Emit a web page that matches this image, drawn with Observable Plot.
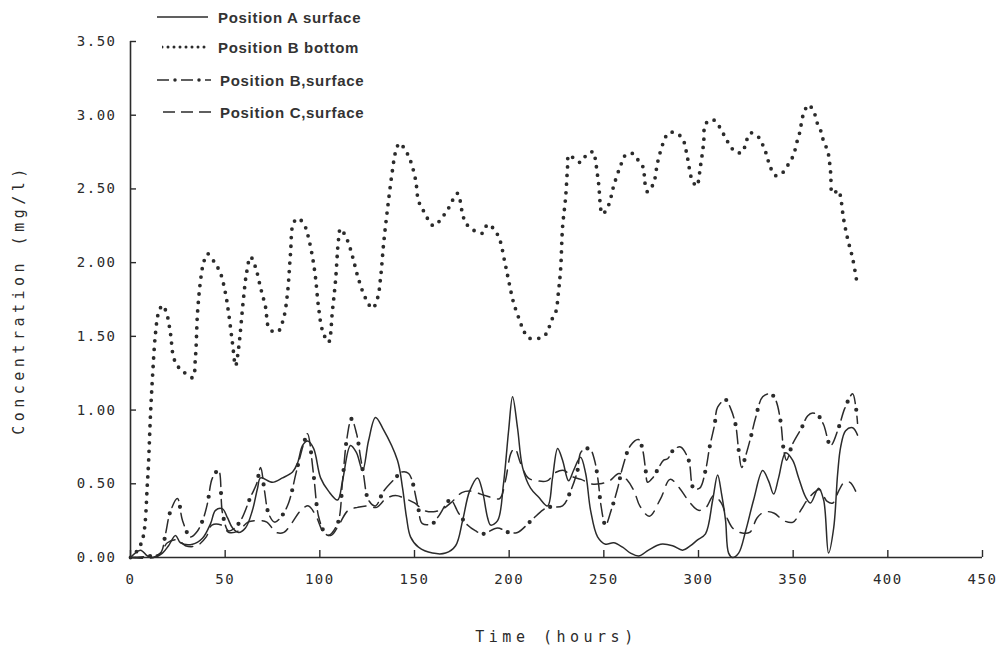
<!DOCTYPE html>
<html>
<head>
<meta charset="utf-8">
<script src="https://cdn.jsdelivr.net/npm/d3@7"></script>
<script src="https://cdn.jsdelivr.net/npm/@observablehq/plot@0.6"></script>
<style>
  html, body { margin: 0; padding: 0; background: #fff; }
  #wrap { position: relative; width: 1002px; height: 654px; overflow: hidden; }
  #legend { position: absolute; left: 0; top: 0; font-family: "Liberation Sans", Arial, sans-serif; font-weight: bold; font-size: 15px; color: #333; letter-spacing: 0.7px; }
  .row { position: absolute; height: 20px; display: flex; align-items: center; white-space: nowrap; }
  .row svg { display: block; }
  #chart g[aria-label$="tick label"] { letter-spacing: 1.5px; }
  #chart g[aria-label$="axis label"] text { letter-spacing: 4.5px; font-size: 15px; }
</style>
</head>
<body>
<div id="wrap">
  <div id="chart"></div>
  <div id="legend"></div>
</div>
<script>
// Time (hours) and concentration (mg/l)
const posASurface = [[0,0],[5.3,0.05],[9,0.01],[12.2,0],[16.9,0.03],[20.1,0.08],[23.8,0.15],[26.4,0.10],[32.8,0.09],[38,0.13],
  [42.3,0.23],[44.9,0.32],[48.6,0.33],[51.2,0.27],[53.9,0.20],[57.1,0.17],[60.7,0.20],[64.4,0.32],[67.1,0.47],[68.7,0.54],
  [75,0.51],[80.3,0.54],[85.6,0.58],[88.2,0.64],[90.9,0.76],[93.5,0.79],[96.7,0.74],[100.4,0.54],[104.6,0.45],[109.4,0.39],
  [112,0.52],[116.2,0.76],[119.4,0.71],[122.6,0.59],[125.7,0.79],[129.4,0.95],[133.1,0.88],[141,0.66],[143.7,0.47],[145.8,0.27],
  [147.9,0.14],[152.1,0.07],[159.5,0.03],[166.4,0.03],[171.7,0.08],[175.4,0.25],[179.1,0.45],[183.3,0.54],[185.9,0.45],[188.6,0.27],
  [190.2,0.22],[193.9,0.25],[197,0.50],[199.7,0.86],[201.8,1.09],[204.4,0.88],[207.1,0.61],[211.3,0.47],[215.5,0.41],[220.3,0.35],
  [222.9,0.54],[225.6,0.74],[228.2,0.66],[231.4,0.52],[234,0.59],[237.7,0.68],[240.4,0.57],[243,0.32],[246.7,0.14],[250.9,0.09],
  [255.2,0.10],[259.9,0.07],[264.1,0.03],[268.4,0.01],[273.6,0.05],[280,0.09],[286.3,0.08],[291.6,0.05],[295.8,0.08],[299.5,0.12],
  [303.7,0.16],[307.5,0.39],[310.1,0.56],[312.2,0.43],[314.3,0.25],[315.9,0.03],[318,0],[321.2,0.03],[324.9,0.18],[329.1,0.39],
  [333.9,0.59],[337,0.52],[339.7,0.43],[342.3,0.54],[346,0.71],[349.7,0.66],[352.9,0.54],[356.6,0.41],[359.2,0.37],[363.4,0.47],
  [366.1,0.39],[368.7,0.03],[371.4,0.20],[373.5,0.57],[375.1,0.75],[377.7,0.86],[381.4,0.88],[384,0.83]];

const posBBottom = [[0,0],[2.6,0.03],[6.3,0.12],[9.0,0.52],[10.6,0.98],[11.6,1.22],[13.2,1.52],[14.8,1.66],[16.9,1.71],[19.0,1.66],
  [21.1,1.52],[22.7,1.36],[24.8,1.30],[28.0,1.26],[32.8,1.22],[34.3,1.36],[35.4,1.66],[37.0,1.88],[38.6,2.00],[40.7,2.06],
  [44.9,1.99],[47.5,1.93],[50.2,1.79],[51.8,1.66],[53.9,1.45],[55.5,1.30],[57.1,1.42],[59.7,1.76],[61.3,1.93],[63.4,2.04],
  [66.0,1.97],[68.7,1.83],[71.3,1.70],[73.4,1.55],[77.7,1.53],[80.8,1.62],[82.9,1.79],[84.5,2.06],[86.1,2.27],[88.7,2.30],
  [92.4,2.24],[94.0,2.17],[96.1,2.04],[97.7,1.90],[99.3,1.70],[101.4,1.54],[104.6,1.46],[106.7,1.68],[108.3,1.88],[109.9,2.16],
  [110.9,2.23],[114.6,2.15],[117.3,2.04],[120.4,1.89],[124.1,1.76],[127.8,1.69],[130.5,1.76],[132.1,1.90],[133.7,2.13],[135.8,2.37],
  [138.4,2.63],[140.0,2.75],[142.1,2.81],[145.3,2.76],[147.9,2.69],[150.6,2.56],[152.1,2.42],[154.8,2.35],[160.1,2.25],[164.8,2.31],
  [168.0,2.37],[172.7,2.47],[175.4,2.33],[177.0,2.27],[181.2,2.22],[186.0,2.20],[188.6,2.26],[191.8,2.23],[194.9,2.16],[197.6,2.01],
  [199.7,1.88],[202.3,1.73],[205.5,1.61],[207.6,1.54],[210.2,1.49],[216.6,1.49],[220.3,1.53],[221.9,1.60],[224.5,1.66],[226.1,1.81],
  [227.2,1.96],[228.2,2.24],[229.8,2.44],[230.9,2.66],[231.4,2.73],[234.0,2.71],[237.7,2.68],[241.4,2.74],[244.6,2.75],[245.6,2.69],
  [247.2,2.54],[249.3,2.33],[252.5,2.39],[255.2,2.52],[258.9,2.66],[261.5,2.73],[265.2,2.74],[268.4,2.69],[271.0,2.64],[271.5,2.56],
  [273.1,2.48],[276.3,2.54],[278.4,2.68],[281.6,2.82],[284.2,2.88],[287.9,2.88],[291.6,2.84],[294.2,2.71],[296.4,2.57],[299.0,2.52],
  [301.1,2.66],[302.7,2.81],[303.7,2.94],[307.5,2.97],[310.6,2.93],[313.3,2.87],[315.9,2.81],[319.6,2.75],[323.3,2.75],[324.9,2.81],
  [327.5,2.88],[331.8,2.85],[333.9,2.80],[336.0,2.73],[337.6,2.66],[340.7,2.59],[344.4,2.61],[347.6,2.67],[350.2,2.73],[351.8,2.81],
  [353.4,2.88],[355.5,3.01],[358.2,3.07],[361.3,3.01],[362.9,2.94],[365.0,2.88],[366.1,2.82],[368.2,2.76],[369.8,2.61],[370.8,2.47],
  [374.0,2.49],[375.1,2.44],[376.6,2.30],[378.8,2.16],[381.4,2.03],[383.5,1.88]];

const posBSurface = [[0,0],[10.6,0.01],[15.8,0.03],[18.5,0.16],[21,0.31],[24.8,0.40],[27.5,0.25],[31.7,0.14],[35.4,0.18],[38.6,0.27],
  [40.7,0.37],[43.3,0.54],[46.5,0.59],[48.6,0.30],[51.8,0.18],[55,0.20],[58.6,0.26],[63.4,0.41],[66.6,0.50],[68.7,0.61],
  [70.8,0.45],[72.9,0.30],[76.1,0.24],[79.8,0.28],[83.5,0.37],[87.2,0.56],[88.7,0.64],[91.9,0.79],[93.5,0.84],[96.7,0.56],
  [99.3,0.28],[102.5,0.17],[104.6,0.15],[109.4,0.23],[112,0.52],[114.1,0.79],[116.7,0.94],[119.4,0.84],[121.5,0.68],[123.1,0.56],
  [125.7,0.39],[129.4,0.35],[133.7,0.45],[140,0.54],[143.2,0.58],[146.9,0.57],[151.6,0.36],[154.2,0.23],[159.5,0.23],[162.7,0.28],
  [169,0.39],[173.3,0.30],[178,0.22],[182.3,0.18],[186,0.16],[193.9,0.20],[199.7,0.17],[204.4,0.17],[210.8,0.24],[216.6,0.31],
  [220.3,0.34],[228.2,0.35],[232.4,0.45],[236.1,0.59],[237.7,0.71],[240.4,0.74],[243,0.73],[245.1,0.66],[247.2,0.50],[248.3,0.37],
  [250.9,0.22],[254.1,0.33],[257.3,0.47],[259.9,0.61],[264.1,0.76],[268.4,0.80],[270.5,0.73],[272.1,0.59],[273.1,0.51],[275.8,0.54],
  [281.6,0.66],[283.7,0.67],[286.8,0.73],[290.5,0.75],[294.8,0.66],[297.4,0.47],[300.6,0.47],[303.7,0.59],[305.9,0.75],[308.5,0.90],
  [310.1,1.02],[314.3,1.07],[317,1.01],[319.6,0.90],[321.2,0.73],[322.8,0.61],[324.9,0.69],[327.5,0.81],[330.2,0.95],[333.9,1.09],
  [338.1,1.11],[340.7,1.07],[343.4,0.92],[345,0.73],[346.5,0.66],[349.7,0.77],[354.5,0.88],[357.6,0.96],[360.3,0.98],[363.4,0.96],
  [366.1,0.90],[369.8,0.76],[374,0.88],[377.2,1.01],[381.4,1.11],[383,1.03],[384,0.91]];

const posCSurface = [[0,0],[12,0],[16,0.03],[19.5,0.10],[25,0.12],[29,0.08],[35,0.08],[40,0.14],[43,0.22],[48,0.22],
  [52,0.17],[57,0.18],[62,0.24],[67,0.25],[72,0.24],[77,0.17],[81,0.17],[85,0.23],[90,0.32],[94,0.35],
  [98,0.28],[102,0.17],[106,0.15],[110,0.22],[115,0.32],[120,0.34],[125,0.35],[130,0.34],[135,0.40],[140,0.42],
  [145,0.40],[150,0.37],[155,0.32],[160,0.31],[165,0.33],[170,0.38],[175,0.44],[180,0.45],[185,0.43],[190,0.41],
  [195,0.40],[198,0.52],[201,0.71],[203,0.74],[206,0.64],[210,0.54],[215,0.52],[220,0.52],[225,0.58],[229,0.59],
  [233,0.55],[238,0.53],[243,0.50],[248,0.50],[253,0.52],[258,0.57],[262,0.53],[266,0.45],[269,0.35],[274,0.28],
  [280,0.40],[285,0.53],[290,0.47],[295,0.38],[300,0.32],[304,0.34],[308,0.42],[312,0.37],[315,0.27],[318,0.20],
  [322,0.17],[327,0.17],[331,0.27],[335,0.31],[340,0.30],[345,0.25],[350,0.24],[354,0.32],[358,0.40],[362,0.45],
  [364,0.46],[368,0.38],[371,0.37],[374,0.45],[377,0.51],[380,0.51],[383,0.45]];

const seriesNames = ["Position A surface", "Position B bottom", "Position B,surface", "Position C,surface"];
const xTicks = [0, 50, 100, 150, 200, 250, 300, 350, 400, 450];
const yTicks = [0, 0.5, 1, 1.5, 2, 2.5, 3, 3.5];

const ink = "#2b2b2b";
const toRows = (arr) => arr.map(([t, c]) => ({t, c}));
const A = toRows(posASurface), Bb = toRows(posBBottom), Bs = toRows(posBSurface), C = toRows(posCSurface);

const chart = Plot.plot({
  width: 1002,
  height: 654,
  marginLeft: 130,
  marginRight: 20,
  marginTop: 41,
  marginBottom: 97,
  style: {background: "#fff", color: ink, fontFamily: "'DejaVu Sans Mono', monospace", fontSize: "14px"},
  x: {domain: [0, 450]},
  y: {domain: [0, 3.5]},
  marks: [
    Plot.ruleY([0], {stroke: ink, strokeWidth: 1.6}),
    Plot.ruleX([0], {stroke: ink, strokeWidth: 1.6}),
    Plot.axisX({ticks: xTicks, tickSize: -7, strokeWidth: 1.4, tickFormat: () => "", label: null}),
    Plot.axisX({ticks: xTicks, tickSize: 0, tickPadding: 17, tickFormat: d3.format("d"),
      label: "Time (hours)", labelAnchor: "center", labelArrow: "none", labelOffset: 84}),
    Plot.axisY({ticks: yTicks, tickSize: -6, strokeWidth: 1.4, tickFormat: () => "", label: null}),
    Plot.axisY({ticks: yTicks, tickSize: 0, tickPadding: 14, tickFormat: d3.format(".2f"),
      label: "Concentration (mg/l)", labelAnchor: "center", labelArrow: "none", labelOffset: 117}),
    // Position B bottom: dotted
    Plot.line(Bb, {x: "t", y: "c", curve: "catmull-rom", stroke: ink, strokeWidth: 3.8,
      strokeDasharray: "0 8.5", strokeLinecap: "round"}),
    // Position A surface: solid
    Plot.line(A, {x: "t", y: "c", curve: "catmull-rom", stroke: ink, strokeWidth: 1.5}),
    // Position C surface: dashed
    Plot.line(C, {x: "t", y: "c", curve: "catmull-rom", stroke: ink, strokeWidth: 1.5,
      strokeDasharray: "12 8"}),
    // Position B surface: dash-dot (dashes + dots)
    Plot.line(Bs, {x: "t", y: "c", curve: "catmull-rom", stroke: ink, strokeWidth: 1.5,
      strokeDasharray: "13 13"}),
    Plot.line(Bs, {x: "t", y: "c", curve: "catmull-rom", stroke: ink, strokeWidth: 4.2,
      strokeDasharray: "0 26", strokeDashoffset: 6.5, strokeLinecap: "round"})
  ]
});
document.getElementById("chart").appendChild(chart);

// Legend (overlaid at the top-left of the plot, as in the reference)
const legendSpec = [
  {name: seriesNames[0], top: 7, x0: 157, x1: 208, tx: 218, layers: [{w: 1.5, dash: null}]},
  {name: seriesNames[1], top: 37, x0: 162, x1: 207, tx: 218, layers: [{w: 3, dash: "0 6", cap: "round"}]},
  {name: seriesNames[2], top: 70, x0: 157, x1: 211, tx: 220, layers: [{w: 1.5, dash: "12 12"}, {w: 3.5, dash: "0 24", off: 6, cap: "round"}]},
  {name: seriesNames[3], top: 102, x0: 163, x1: 212, tx: 220, layers: [{w: 1.5, dash: "12 6"}]}
];
const legend = d3.select("#legend");
for (const s of legendSpec) {
  const row = legend.append("div").attr("class", "row").style("left", s.x0 + "px").style("top", s.top + "px");
  const svg = row.append("svg").attr("width", s.tx - s.x0).attr("height", 20);
  for (const l of s.layers) {
    svg.append("line").attr("x1", 0).attr("x2", s.x1 - s.x0).attr("y1", 10).attr("y2", 10)
      .attr("stroke", ink).attr("stroke-width", l.w)
      .attr("stroke-dasharray", l.dash).attr("stroke-dashoffset", l.off || 0)
      .attr("stroke-linecap", l.cap || "butt");
  }
  row.append("span").text(s.name);
}
</script>
</body>
</html>
